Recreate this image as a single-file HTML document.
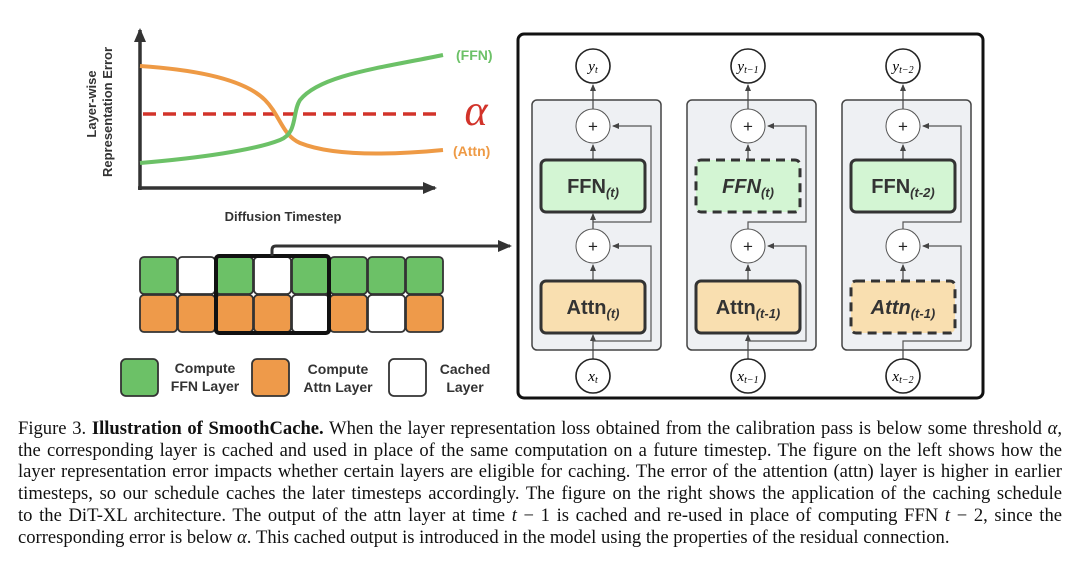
<!DOCTYPE html>
<html><head><meta charset="utf-8"><style>
body{margin:0;background:#fff;width:1080px;height:565px;overflow:hidden;position:relative}
.cap{position:absolute;left:18px;top:418px;width:1044px;font-family:"Liberation Serif",serif;font-size:18.6px;line-height:21.7px;color:#111}
.cap div{text-align:justify;text-align-last:justify;white-space:nowrap}
.cap div.last{text-align-last:left}
svg{position:absolute;left:0;top:0}
.lb{font-family:"Liberation Sans",sans-serif;font-weight:bold}
</style></head><body>
<svg width="1080" height="410" viewBox="0 0 1080 410">
<defs>
<marker id="ah" markerWidth="8" markerHeight="8" refX="6" refY="4" orient="auto" markerUnits="userSpaceOnUse"><path d="M0,1 L7,4 L0,7 z" fill="#444"/></marker>
<marker id="big" markerWidth="16" markerHeight="16" refX="12" refY="8" orient="auto" markerUnits="userSpaceOnUse"><path d="M0,2 L14,8 L0,14 z" fill="#333"/></marker>
</defs>
<line x1="140" y1="190" x2="140" y2="30" stroke="#333" stroke-width="3.5" marker-end="url(#big)"/>
<line x1="138" y1="188" x2="435" y2="188" stroke="#333" stroke-width="3.5" marker-end="url(#big)"/>
<line x1="143" y1="114" x2="443" y2="114" stroke="#d2332a" stroke-width="3.5" stroke-dasharray="13,7"/>
<path d="M140,66 C200,70 245,80 265,100 C280,115 282,135 300,143 C330,155 380,156 443,150" fill="none" stroke="#ee9a45" stroke-width="4"/>
<path d="M140,163 C200,158 255,150 280,140 C298,133 292,112 300,100 C320,75 380,68 443,55" fill="none" stroke="#6cc167" stroke-width="4"/>
<text x="456" y="60" class="lb" font-size="14" fill="#6cc167">(FFN)</text>
<text x="453" y="156" class="lb" font-size="14" fill="#ee9a45">(Attn)</text>
<text x="476" y="125" font-family="Liberation Serif,serif" font-style="italic" font-size="44" fill="#d2332a" text-anchor="middle">α</text>
<text transform="translate(96,104) rotate(-90)" class="lb" font-size="13" fill="#333" text-anchor="middle">Layer-wise</text>
<text transform="translate(112,112) rotate(-90)" class="lb" font-size="13" fill="#333" text-anchor="middle">Representation Error</text>
<text x="283" y="221" class="lb" font-size="13" fill="#333" text-anchor="middle">Diffusion Timestep</text>
<g stroke="#333" stroke-width="1.8">
<rect x="140" y="257" width="37" height="37" rx="4" fill="#6cc167"/>
<rect x="178" y="257" width="37" height="37" rx="4" fill="#fff"/>
<rect x="216" y="257" width="37" height="37" rx="4" fill="#6cc167"/>
<rect x="254" y="257" width="37" height="37" rx="4" fill="#fff"/>
<rect x="292" y="257" width="37" height="37" rx="4" fill="#6cc167"/>
<rect x="330" y="257" width="37" height="37" rx="4" fill="#6cc167"/>
<rect x="368" y="257" width="37" height="37" rx="4" fill="#6cc167"/>
<rect x="406" y="257" width="37" height="37" rx="4" fill="#6cc167"/>
<rect x="140" y="295" width="37" height="37" rx="4" fill="#ee9a4a"/>
<rect x="178" y="295" width="37" height="37" rx="4" fill="#ee9a4a"/>
<rect x="216" y="295" width="37" height="37" rx="4" fill="#ee9a4a"/>
<rect x="254" y="295" width="37" height="37" rx="4" fill="#ee9a4a"/>
<rect x="292" y="295" width="37" height="37" rx="4" fill="#fff"/>
<rect x="330" y="295" width="37" height="37" rx="4" fill="#ee9a4a"/>
<rect x="368" y="295" width="37" height="37" rx="4" fill="#fff"/>
<rect x="406" y="295" width="37" height="37" rx="4" fill="#ee9a4a"/>
</g>
<rect x="216" y="256" width="113" height="77" rx="3" fill="none" stroke="#111" stroke-width="4"/>
<path d="M272,256 L272,250 Q272,246 276,246 L510,246" fill="none" stroke="#333" stroke-width="3" marker-end="url(#big)"/>
<rect x="121" y="359" width="37" height="37" rx="5" fill="#6cc167" stroke="#333" stroke-width="1.8"/>
<text x="205" y="373" class="lb" font-size="14" fill="#333" text-anchor="middle">Compute</text>
<text x="205" y="391" class="lb" font-size="14" fill="#333" text-anchor="middle">FFN Layer</text>
<rect x="252" y="359" width="37" height="37" rx="5" fill="#ee9a4a" stroke="#333" stroke-width="1.8"/>
<text x="338" y="374" class="lb" font-size="14" fill="#333" text-anchor="middle">Compute</text>
<text x="338" y="392" class="lb" font-size="14" fill="#333" text-anchor="middle">Attn Layer</text>
<rect x="389" y="359" width="37" height="37" rx="5" fill="#fff" stroke="#333" stroke-width="1.8"/>
<text x="465" y="374" class="lb" font-size="14" fill="#333" text-anchor="middle">Cached</text>
<text x="465" y="392" class="lb" font-size="14" fill="#333" text-anchor="middle">Layer</text>
<rect x="518" y="34" width="465" height="364" rx="6" fill="#fff" stroke="#111" stroke-width="3"/>

<g transform="translate(593,0)">
<rect x="-61" y="100" width="129" height="250" rx="5" fill="#eef0f3" stroke="#444" stroke-width="1.5"/>
<line x1="0" y1="109" x2="0" y2="85" stroke="#444" stroke-width="1.2" marker-end="url(#ah)"/>
<line x1="0" y1="160" x2="0" y2="145" stroke="#444" stroke-width="1.2" marker-end="url(#ah)"/>
<line x1="0" y1="229" x2="0" y2="214" stroke="#444" stroke-width="1.2" marker-end="url(#ah)"/>
<line x1="0" y1="281" x2="0" y2="265" stroke="#444" stroke-width="1.2" marker-end="url(#ah)"/>
<line x1="0" y1="359" x2="0" y2="335" stroke="#444" stroke-width="1.2" marker-end="url(#ah)"/>
<path d="M0,222 L58,222 L58,126 L20,126" fill="none" stroke="#555" stroke-width="1.2" marker-end="url(#ah)"/>
<path d="M0,341 L58,341 L58,246 L20,246" fill="none" stroke="#555" stroke-width="1.2" marker-end="url(#ah)"/>
<circle cx="0" cy="66" r="17" fill="#fff" stroke="#222" stroke-width="1.6"/>
<circle cx="0" cy="126" r="17" fill="#fff" stroke="#555" stroke-width="1"/>
<circle cx="0" cy="246" r="17" fill="#fff" stroke="#555" stroke-width="1"/>
<circle cx="0" cy="376" r="17" fill="#fff" stroke="#222" stroke-width="1.6"/>
<text x="0" y="132" font-family="Liberation Sans,sans-serif" font-size="17" text-anchor="middle" fill="#222">+</text>
<text x="0" y="252" font-family="Liberation Sans,sans-serif" font-size="17" text-anchor="middle" fill="#222">+</text>
<rect x="-52" y="160" width="104" height="52" rx="5" fill="#d3f5d3" stroke="#333" stroke-width="3"/>
<rect x="-52" y="281" width="104" height="52" rx="5" fill="#f9dfb0" stroke="#333" stroke-width="3"/>
<text x="0" y="193" class="lb" font-size="20" fill="#333" text-anchor="middle">FFN<tspan font-size="13" font-style="italic" dy="4">(t)</tspan></text>
<text x="0" y="314" class="lb" font-size="20" fill="#333" text-anchor="middle">Attn<tspan font-size="13" font-style="italic" dy="4">(t)</tspan></text>
<text x="0" y="71" font-family="Liberation Serif,serif" font-style="italic" font-size="15" text-anchor="middle">y<tspan font-size="10" dy="2">t</tspan></text>
<text x="0" y="381" font-family="Liberation Serif,serif" font-style="italic" font-size="15" text-anchor="middle">x<tspan font-size="10" dy="2">t</tspan></text>
</g>

<g transform="translate(748,0)">
<rect x="-61" y="100" width="129" height="250" rx="5" fill="#eef0f3" stroke="#444" stroke-width="1.5"/>
<line x1="0" y1="109" x2="0" y2="85" stroke="#444" stroke-width="1.2" marker-end="url(#ah)"/>
<line x1="0" y1="160" x2="0" y2="145" stroke="#444" stroke-width="1.2" marker-end="url(#ah)"/>
<line x1="0" y1="281" x2="0" y2="265" stroke="#444" stroke-width="1.2" marker-end="url(#ah)"/>
<line x1="0" y1="359" x2="0" y2="335" stroke="#444" stroke-width="1.2" marker-end="url(#ah)"/>
<path d="M0,229 L0,222 L58,222 L58,126 L20,126" fill="none" stroke="#555" stroke-width="1.2" marker-end="url(#ah)"/>
<path d="M0,341 L58,341 L58,246 L20,246" fill="none" stroke="#555" stroke-width="1.2" marker-end="url(#ah)"/>
<circle cx="0" cy="66" r="17" fill="#fff" stroke="#222" stroke-width="1.6"/>
<circle cx="0" cy="126" r="17" fill="#fff" stroke="#555" stroke-width="1"/>
<circle cx="0" cy="246" r="17" fill="#fff" stroke="#555" stroke-width="1"/>
<circle cx="0" cy="376" r="17" fill="#fff" stroke="#222" stroke-width="1.6"/>
<text x="0" y="132" font-family="Liberation Sans,sans-serif" font-size="17" text-anchor="middle" fill="#222">+</text>
<text x="0" y="252" font-family="Liberation Sans,sans-serif" font-size="17" text-anchor="middle" fill="#222">+</text>
<rect x="-52" y="160" width="104" height="52" rx="5" fill="#d3f5d3" stroke="#333" stroke-width="3" stroke-dasharray="9,6"/>
<rect x="-52" y="281" width="104" height="52" rx="5" fill="#f9dfb0" stroke="#333" stroke-width="3"/>
<text x="0" y="193" class="lb" font-size="20" font-style="italic" fill="#333" text-anchor="middle">FFN<tspan font-size="13" dy="4">(t)</tspan></text>
<text x="0" y="314" class="lb" font-size="20" fill="#333" text-anchor="middle">Attn<tspan font-size="13" font-style="italic" dy="4">(t-1)</tspan></text>
<text x="0" y="71" font-family="Liberation Serif,serif" font-style="italic" font-size="15" text-anchor="middle">y<tspan font-size="10" dy="2">t−1</tspan></text>
<text x="0" y="381" font-family="Liberation Serif,serif" font-style="italic" font-size="15" text-anchor="middle">x<tspan font-size="10" dy="2">t−1</tspan></text>
</g>

<g transform="translate(903,0)">
<rect x="-61" y="100" width="129" height="250" rx="5" fill="#eef0f3" stroke="#444" stroke-width="1.5"/>
<line x1="0" y1="109" x2="0" y2="85" stroke="#444" stroke-width="1.2" marker-end="url(#ah)"/>
<line x1="0" y1="160" x2="0" y2="145" stroke="#444" stroke-width="1.2" marker-end="url(#ah)"/>
<line x1="0" y1="281" x2="0" y2="265" stroke="#444" stroke-width="1.2" marker-end="url(#ah)"/>
<line x1="0" y1="359" x2="0" y2="350" stroke="#444" stroke-width="1.2"/>
<path d="M0,229 L0,222 L58,222 L58,126 L20,126" fill="none" stroke="#555" stroke-width="1.2" marker-end="url(#ah)"/>
<path d="M0,350 L0,341 L58,341 L58,246 L20,246" fill="none" stroke="#555" stroke-width="1.2" marker-end="url(#ah)"/>
<circle cx="0" cy="66" r="17" fill="#fff" stroke="#222" stroke-width="1.6"/>
<circle cx="0" cy="126" r="17" fill="#fff" stroke="#555" stroke-width="1"/>
<circle cx="0" cy="246" r="17" fill="#fff" stroke="#555" stroke-width="1"/>
<circle cx="0" cy="376" r="17" fill="#fff" stroke="#222" stroke-width="1.6"/>
<text x="0" y="132" font-family="Liberation Sans,sans-serif" font-size="17" text-anchor="middle" fill="#222">+</text>
<text x="0" y="252" font-family="Liberation Sans,sans-serif" font-size="17" text-anchor="middle" fill="#222">+</text>
<rect x="-52" y="160" width="104" height="52" rx="5" fill="#d3f5d3" stroke="#333" stroke-width="3"/>
<rect x="-52" y="281" width="104" height="52" rx="5" fill="#f9dfb0" stroke="#333" stroke-width="3" stroke-dasharray="9,6"/>
<text x="0" y="193" class="lb" font-size="20" fill="#333" text-anchor="middle">FFN<tspan font-size="13" font-style="italic" dy="4">(t-2)</tspan></text>
<text x="0" y="314" class="lb" font-size="20" font-style="italic" fill="#333" text-anchor="middle">Attn<tspan font-size="13" dy="4">(t-1)</tspan></text>
<text x="0" y="71" font-family="Liberation Serif,serif" font-style="italic" font-size="15" text-anchor="middle">y<tspan font-size="10" dy="2">t−2</tspan></text>
<text x="0" y="381" font-family="Liberation Serif,serif" font-style="italic" font-size="15" text-anchor="middle">x<tspan font-size="10" dy="2">t−2</tspan></text>
</g>
</svg>
<div class="cap">
<div>Figure 3. <b>Illustration of SmoothCache.</b> When the layer representation loss obtained from the calibration pass is below some threshold <i>α</i>,</div>
<div>the corresponding layer is cached and used in place of the same computation on a future timestep. The figure on the left shows how the</div>
<div>layer representation error impacts whether certain layers are eligible for caching. The error of the attention (attn) layer is higher in earlier</div>
<div>timesteps, so our schedule caches the later timesteps accordingly. The figure on the right shows the application of the caching schedule</div>
<div>to the DiT-XL architecture. The output of the attn layer at time <i>t</i> − 1 is cached and re-used in place of computing FFN <i>t</i> − 2, since the</div>
<div class="last">corresponding error is below <i>α</i>. This cached output is introduced in the model using the properties of the residual connection.</div>
</div>
</body></html>
